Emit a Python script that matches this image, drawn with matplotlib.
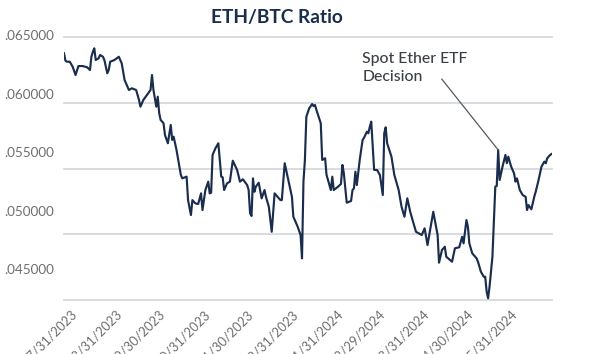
import matplotlib
matplotlib.use("Agg")
import matplotlib.pyplot as plt
import pandas as pd
import numpy as np

# ---- data ----
start_date = "2023-07-26"
day_offsets = [0, 1, 2, 4, 6, 8, 10, 13, 16, 18, 19, 20, 21, 22, 24, 25, 27, 28, 30, 31,
               32, 35, 38, 40, 42, 45, 47, 50, 52, 53, 55, 57, 60, 61, 62, 64, 65, 66, 67, 69,
               70, 72, 74, 75, 76, 78, 80, 81, 82, 85, 86, 88, 89, 91, 93, 95, 96, 98, 100, 101,
               102, 103, 105, 107, 109, 110, 111, 113, 115, 117, 120, 122, 124, 127, 128, 129, 130, 131, 132, 133,
               135, 137, 139, 140, 142, 144, 146, 150, 151, 153, 155, 158, 159, 162, 164, 165, 166, 167, 168, 170,
               172, 173, 174, 175, 178, 179, 181, 182, 185, 186, 187, 190, 192, 193, 194, 196, 199, 200, 201, 202,
               203, 205, 207, 208, 210, 211, 212, 213, 215, 217, 219, 221, 222, 223, 224, 227, 229, 232, 234, 236,
               238, 240, 242, 244, 248, 250, 252, 253, 256, 259, 260, 262, 264, 265, 269, 271, 274, 276, 277, 279,
               280, 281, 283, 286, 287, 289, 291, 292, 293, 294, 295, 297, 299, 300, 301, 302, 304, 306, 307, 308,
               310, 312, 313, 314, 316, 318, 320, 321, 322, 324, 326, 327, 329, 331, 333, 334, 335, 337, 338]
eth_btc = [0.06376, 0.06320, 0.06312, 0.06312, 0.06274, 0.06211, 0.06279, 0.06279, 0.06270, 0.06249,
           0.06350, 0.06388, 0.06414, 0.06325, 0.06338, 0.06363, 0.06350, 0.06325, 0.06224, 0.06249,
           0.06312, 0.06325, 0.06350, 0.06300, 0.06173, 0.06097, 0.06110, 0.06097, 0.06021, 0.05970,
           0.06021, 0.06051, 0.06097, 0.06211, 0.06097, 0.05970, 0.06046, 0.05920, 0.05869, 0.05844,
           0.05755, 0.05692, 0.05831, 0.05717, 0.05742, 0.05641, 0.05514, 0.05451, 0.05425, 0.05438,
           0.05260, 0.05146, 0.05260, 0.05235, 0.05230, 0.05311, 0.05184, 0.05336, 0.05400, 0.05311,
           0.05316, 0.05603, 0.05654, 0.05692, 0.05438, 0.05433, 0.05336, 0.05387, 0.05400, 0.05559,
           0.05489, 0.05400, 0.05418, 0.05374, 0.05336, 0.05159, 0.05139, 0.05425, 0.05323, 0.05362,
           0.05392, 0.05273, 0.05336, 0.05285, 0.05209, 0.05019, 0.05311, 0.05260, 0.05260, 0.05540,
           0.05438, 0.05285, 0.05133, 0.05057, 0.04994, 0.04817, 0.05400, 0.05565, 0.05894, 0.05958,
           0.05990, 0.05975, 0.05983, 0.05945, 0.05844, 0.05565, 0.05578, 0.05451, 0.05336, 0.05438,
           0.05336, 0.05362, 0.05382, 0.05527, 0.05463, 0.05240, 0.05253, 0.05336, 0.05349, 0.05476,
           0.05374, 0.05565, 0.05717, 0.05734, 0.05780, 0.05768, 0.05818, 0.05856, 0.05489, 0.05489,
           0.05451, 0.05298, 0.05768, 0.05813, 0.05692, 0.05590, 0.05451, 0.05336, 0.05209, 0.05133,
           0.05273, 0.05171, 0.05095, 0.05019, 0.04994, 0.05045, 0.04918, 0.04981, 0.05171, 0.04994,
           0.04784, 0.04880, 0.04905, 0.04829, 0.04791, 0.04893, 0.04901, 0.04981, 0.04931, 0.05108,
           0.05057, 0.04931, 0.04855, 0.04817, 0.04791, 0.04715, 0.04677, 0.04677, 0.04563, 0.04513,
           0.04601, 0.04829, 0.05362, 0.05367, 0.05641, 0.05413, 0.05514, 0.05603, 0.05540, 0.05590,
           0.05514, 0.05463, 0.05400, 0.05425, 0.05336, 0.05298, 0.05285, 0.05184, 0.05222, 0.05190,
           0.05285, 0.05323, 0.05413, 0.05514, 0.05552, 0.05540, 0.05578, 0.05603, 0.05610]
y_ticks = [0.065, 0.060, 0.055, 0.050, 0.045]
y_tick_labels = [".065000", ".060000", ".055000", ".050000", ".045000"]
x_tick_dates = ["2023-07-31", "2023-08-31", "2023-09-30", "2023-10-31", "2023-11-30",
                "2023-12-31", "2024-01-31", "2024-02-29", "2024-03-31", "2024-04-30", "2024-05-31"]
x_tick_labels = ["07/31/2023", "08/31/2023", "09/30/2023", "10/31/2023", "11/30/2023",
                 "12/31/2023", "01/31/2024", "02/29/2024", "03/31/2024", "04/30/2024", "05/31/2024"]
title = "ETH/BTC Ratio"
annotation_text = "Spot Ether ETF\nDecision"
annotation_day = 301

# ---- styling ----
plt.rcParams['font.family'] = ['Lato', 'DejaVu Sans']
W, H = 590, 354
navy = "#1b2d4d"
grid_c = "#d6dadf"
tick_c = "#6d6e71"
note_c = "#3a3f46"

dates = pd.Timestamp(start_date) + pd.to_timedelta(day_offsets, unit="D")

fig = plt.figure(figsize=(W / 100, H / 100), dpi=100)
ax_left, ax_right, ax_top, ax_bot = 64, 552, 37, 300
ax = fig.add_axes([ax_left / W, 1 - ax_bot / H, (ax_right - ax_left) / W, (ax_bot - ax_top) / H])

ax.plot(dates, eth_btc, color=navy, lw=1.55, solid_joinstyle="round", zorder=3)

x0 = pd.Timestamp(start_date)
ax.set_xlim(x0, x0 + pd.Timedelta(days=338.3))
ax.set_ylim(min(y_ticks), max(y_ticks))

for v in y_ticks:
    ax.axhline(v, color=grid_c, lw=1.3, zorder=1, clip_on=False)

for s in ax.spines.values():
    s.set_visible(False)

ax.set_yticks([])
ax.set_xticks(pd.to_datetime(x_tick_dates))
ax.set_xticklabels(x_tick_labels, rotation=45, ha="right", va="top",
                   rotation_mode="anchor", fontsize=9.3, color=tick_c)
ax.tick_params(axis="x", length=0, pad=6)

# y labels (placed as in the reference, with their own spacing)
for i, lab in enumerate(y_tick_labels):
    ypx = 36.5 + i * 58.45
    fig.text(54 / W, 1 - ypx / H, lab, ha="right", va="center", fontsize=9.7, color=tick_c)

fig.text(276.5 / W, 1 - 17 / H, title, ha="center", va="center",
         fontsize=13.8, fontweight="bold", color=navy)

# annotation
peak_date = x0 + pd.Timedelta(days=annotation_day)
peak_val = eth_btc[day_offsets.index(annotation_day)]
ax.annotate("", xy=(peak_date, peak_val), xycoords="data",
            xytext=(441.7 / W, 1 - 79 / H), textcoords="figure fraction",
            arrowprops=dict(arrowstyle="-", color="#555a60", lw=0.9, shrinkA=0, shrinkB=0))
fig.text(362.5 / W, 1 - 68 / H, annotation_text, ha="left", va="center",
         fontsize=11.3, fontweight="medium", color=note_c, linespacing=1.3)

fig.savefig("out.png", dpi=100)
